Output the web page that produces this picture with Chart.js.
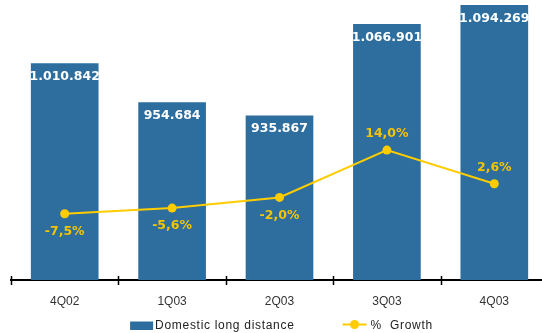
<!DOCTYPE html>
<html>
<head>
<meta charset="utf-8">
<script src="https://cdn.jsdelivr.net/npm/chart.js@4/dist/chart.umd.min.js"></script>
<style>
  html, body { margin: 0; padding: 0; background: #fff; overflow: hidden; }
  #wrap { width: 548px; height: 333px; }
</style>
</head>
<body>
<div id="wrap"><canvas id="trafficChart" width="548" height="333"></canvas></div>
<script>
const quarters = ["4Q02", "1Q03", "2Q03", "3Q03", "4Q03"];
const domesticMinutes = [1010842, 954684, 935867, 1066901, 1094269];
const growthPct = [-7.5, -5.6, -2.0, 14.0, 2.6];

const BLUE = "#2d6e9f";
const YELLOW = "#ffcc00";
const LABEL_YELLOW = "#f5c400";
const TEXT = "#222";

const fmtThousands = (v) => String(v).replace(/\B(?=(\d{3})+(?!\d))/g, ".");
const fmtPct = (v) => v.toFixed(1).replace(".", ",") + "%";

// value labels: white inside the bar tops, yellow above/below the growth points
const valueLabels = {
  id: "valueLabels",
  afterDatasetsDraw(chart) {
    const ctx = chart.ctx;
    ctx.save();
    ctx.textAlign = "center";
    ctx.textBaseline = "middle";
    ctx.font = "bold 12.5px 'DejaVu Sans'";
    ctx.fillStyle = "#ffffff";
    chart.getDatasetMeta(0).data.forEach((bar, i) => {
      ctx.fillText(fmtThousands(domesticMinutes[i]), bar.x, bar.y + 13.5);
    });
    ctx.fillStyle = LABEL_YELLOW;
    chart.getDatasetMeta(1).data.forEach((pt, i) => {
      const v = growthPct[i];
      ctx.fillText(fmtPct(v), pt.x, v < 0 ? pt.y + 18 : pt.y - 16);
    });
    ctx.restore();
  },
};

// tick marks crossing the category axis at each category boundary
const axisTicks = {
  id: "axisTicks",
  afterDraw(chart) {
    const x = chart.scales.x;
    const ctx = chart.ctx;
    const yAxis = x.top;
    ctx.save();
    ctx.strokeStyle = "#000";
    ctx.lineWidth = 1.5;
    ctx.beginPath();
    for (let i = 0; i <= quarters.length; i++) {
      const px = Math.round(x.getPixelForValue(i - 0.5)) + 0.5;
      ctx.moveTo(px, yAxis - 4);
      ctx.lineTo(px, yAxis + 5);
    }
    ctx.stroke();
    ctx.restore();
  },
};

// legend row: box swatch for the bars, line-and-dot swatch for the growth line
const bottomLegend = {
  id: "bottomLegend",
  afterDraw(chart) {
    const ctx = chart.ctx;
    const { left, right } = chart.chartArea;
    const [barLabel, lineLabel] = chart.data.datasets.map((ds) => ds.label);
    const y = 326;
    ctx.save();
    ctx.font = "12px 'Liberation Sans', Arial";
    ctx.letterSpacing = "0.7px";
    ctx.textBaseline = "middle";
    const w1 = ctx.measureText(barLabel).width;
    const w2 = ctx.measureText(lineLabel).width;
    const total = 23 + 2 + w1 + 48 + 24 + 4 + w2;
    let x = (left + right) / 2 + 2 - total / 2;

    ctx.fillStyle = BLUE;
    ctx.fillRect(x, y - 4.5, 23, 8.5);
    x += 25;
    ctx.fillStyle = TEXT;
    ctx.fillText(barLabel, x, y);
    x += w1 + 48;

    ctx.strokeStyle = YELLOW;
    ctx.lineWidth = 2;
    ctx.beginPath();
    ctx.moveTo(x, y - 1.5);
    ctx.lineTo(x + 24, y - 1.5);
    ctx.stroke();
    ctx.fillStyle = YELLOW;
    ctx.beginPath();
    ctx.arc(x + 12, y - 1.5, 4.5, 0, Math.PI * 2);
    ctx.fill();
    x += 28;
    ctx.fillStyle = TEXT;
    ctx.fillText(lineLabel, x, y);
    ctx.restore();
  },
};

new Chart(document.getElementById("trafficChart"), {
  data: {
    labels: quarters,
    datasets: [
      {
        type: "bar",
        label: "Domestic long distance",
        data: domesticMinutes,
        backgroundColor: BLUE,
        borderWidth: 0,
        categoryPercentage: 1,
        barPercentage: 0.63,
        yAxisID: "y",
        order: 2,
      },
      {
        type: "line",
        label: "%  Growth",
        data: growthPct,
        borderColor: YELLOW,
        backgroundColor: YELLOW,
        borderWidth: 2,
        pointRadius: 4.5,
        pointBackgroundColor: YELLOW,
        pointBorderWidth: 0,
        tension: 0,
        yAxisID: "y1",
        order: 1,
      },
    ],
  },
  options: {
    responsive: false,
    animation: false,
    layout: { autoPadding: false, padding: { left: 11, right: 0, top: 0, bottom: 17 } },
    plugins: {
      tooltip: { enabled: false },
      legend: { display: false },
    },
    scales: {
      x: {
        afterFit: (scale) => { scale.height = 36; },
        grid: { display: false },
        border: { color: "#000", width: 2 },
        ticks: {
          padding: 6,
          color: "#333",
          font: { family: "'Liberation Sans', Arial", size: 12 },
        },
      },
      y: { display: false, min: 700000, max: 1101437 },
      y1: { display: false, position: "right", min: -29.9, max: 64.7 },
    },
  },
  plugins: [valueLabels, axisTicks, bottomLegend],
});
</script>
</body>
</html>
